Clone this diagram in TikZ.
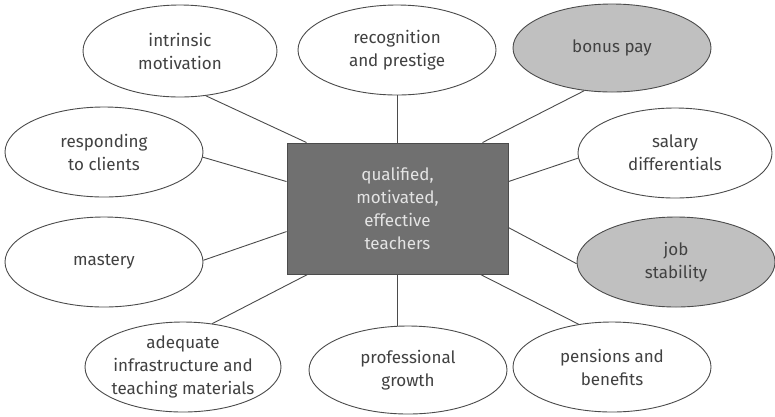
\documentclass[tikz,border=0pt]{standalone}
\usepackage{fontspec}
\setmainfont{Fira Sans}
\usetikzlibrary{shapes.geometric,calc}
\definecolor{linegray}{RGB}{75,75,75}
\definecolor{boxfill}{RGB}{112,112,112}
\definecolor{ovalfill}{RGB}{192,192,192}
\definecolor{txtgray}{RGB}{65,65,65}
\definecolor{boxtxt}{RGB}{228,228,228}
\begin{document}
\begin{tikzpicture}[x=1pt,y=-1pt,
  oval/.style={ellipse,draw=linegray,line width=0.9pt,fill=white,inner sep=0pt,minimum width=198pt,minimum height=90pt},
  hl/.style={oval,fill=ovalfill},
  txt/.style={align=center,text=txtgray,font=\fontsize{17}{23}\selectfont,inner sep=0pt},
  hub/.style={rectangle,draw=linegray,line width=0.9pt,fill=boxfill,minimum width=221pt,minimum height=131pt,inner sep=0pt,align=center,text=boxtxt,font=\fontsize{17}{23}\selectfont},
  conn/.style={draw=linegray,line width=0.9pt}]
\useasboundingbox (0,0) rectangle (775,416);
\fill[white] (0,0) rectangle (775,416);

\node[hub] (c) at (397.5,208.5) {qualified,\\motivated,\\effective\\teachers};

\node[oval,minimum width=194pt,minimum height=92pt] (im) at (180,51) {};
\node[txt] (imt) at (im) {intrinsic\\motivation};
\node[oval] (rec) at (397,50) {};
\node[txt] (rect) at (rec) {recognition\\and prestige};
\node[hl,minimum height=88pt] (bp) at (612,48) {};
\node[txt] (bpt) at (bp) {bonus pay};
\node[oval,minimum width=194pt] (sal) at (675,153) {};
\node[txt] (salt) at (sal) {salary\\differentials};
\node[oval] (rc) at (104,152) {};
\node[txt] (rct) at (rc) {responding\\to clients};
\node[oval] (mas) at (104,262) {};
\node[txt] (mast) at (mas) {mastery};
\node[hl] (job) at (676,262) {};
\node[txt] (jobt) at (job) {job\\stability};
\node[oval,minimum width=196pt] (ad) at (183,367) {};
\node[txt] (adt) at (ad) {adequate\\infrastructure and\\teaching materials};
\node[oval,minimum height=88pt] (pg) at (408,370) {};
\node[txt] (pgt) at (pg) {professional\\growth};
\node[oval] (pen) at (612,367) {};
\node[txt] (pent) at (pen) {pensions and\\benefits};

\draw[conn] (im.-60) -- ($(c.north west)+(20,0)$);
\draw[conn] (rec.south) -- (rec.south |- c.north);
\draw[conn] (bp.-123) -- ($(c.north east)+(-26,0)$);
\draw[conn] (sal.183) -- ($(c.north east)+(0,39)$);
\draw[conn] (rc.-3) -- ($(c.north west)+(0,39)$);
\draw[conn] (mas.1) -- ($(c.north west)+(0,89)$);
\draw[conn] (ad.56) -- ($(c.south west)+(21,0)$);
\draw[conn] (c.south) -- (c.south |- pg.north);
\draw[conn] ($(c.south east)+(-28,0)$) -- (pen.128);
\draw[conn] ($(c.north east)+(0,85)$) -- (job.181);
\end{tikzpicture}
\end{document}
